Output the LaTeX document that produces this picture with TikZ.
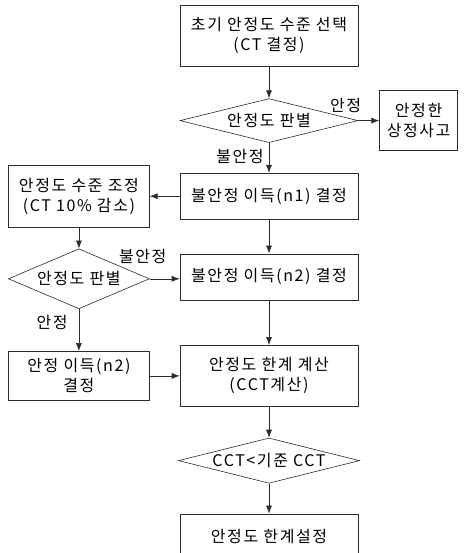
\documentclass[tikz,border=0pt]{standalone}
\usepackage{fontspec}
\usetikzlibrary{arrows.meta,positioning,shapes.geometric}
\newfontfamily\kr[LetterSpace=10]{Noto Sans CJK KR}
\definecolor{ink}{HTML}{2B2B2B}

\begin{document}
\begin{tikzpicture}[x=1pt,y=1pt,>={Latex[length=8pt,width=6pt]},
    every node/.style={font=\kr\fontsize{16}{20}\selectfont},
    box/.style={draw=ink,line width=0.6pt,minimum width=178pt,minimum height=46pt,
                align=center,inner sep=2pt},
    test/.style={draw=ink,line width=0.6pt,diamond,aspect=4,minimum width=178pt,
                 minimum height=44pt,inner sep=1pt},
    flow/.style={->,draw=ink,line width=0.6pt},
    lbl/.style={inner sep=1pt}]
    \useasboundingbox (0,0) rectangle (466,-553);
    % main column
    \node[box,minimum height=61pt] (init) at (269,-35.5) {초기 안정도 수준 선택\\(CT 결정)};
    \node[test,below=32pt of init] (judgeA) {안정도 판별};
    \node[box,minimum width=78pt,minimum height=60pt,right=21pt of judgeA] (safe) {안정한\\상정사고};
    \node[box,below=30pt of judgeA] (gainA) {불안정 이득(n1) 결정};
    \node[box,below=34pt of gainA] (gainB) {불안정 이득(n2) 결정};
    \node[box,minimum height=61pt,below=45pt of gainB] (limit) {안정도 한계 계산\\(CCT계산)};
    \node[test,below=31pt of limit] (cct) {CCT<기준 CCT};
    \node[box,below=30pt of cct] (set) {안정도 한계설정};
    % left column
    \node[box,minimum width=141pt,minimum height=62pt,left=30pt of gainA] (adjust) {안정도 수준 조정\\(CT 10\% 감소)};
    \node[test,aspect=2.35,minimum width=141pt,minimum height=60pt,below=21pt of adjust] (judgeB) {안정도 판별};
    \node[box,minimum width=141pt,minimum height=49pt,below=42pt of judgeB] (stable) {안정 이득(n2)\\결정};

    \draw[flow] (init) -- (judgeA);
    \draw[flow] (judgeA) -- (safe);
    \node[lbl,above left=7pt and -4pt of judgeA.east] (okA) {안정};
    \draw[flow] (judgeA) -- node[lbl,left=4pt,pos=0.45] (failA) {불안정} (gainA);
    \draw[flow] (gainA) -- (adjust);
    \draw[flow] (adjust) -- (judgeB);
    \draw[flow] (judgeB.east) -- (judgeB.east -| gainB.west);
    \node[lbl,above=14pt,xshift=-7pt] (failB) at (judgeB.east) {불안정};
    \draw[flow] (gainA) -- (gainB);
    \draw[flow] (judgeB) -- node[lbl,left=10pt,pos=0.33] (okB) {안정} (stable);
    \draw[flow] (stable.east) -- (stable.east -| limit.west);
    \draw[flow] (gainB) -- (limit);
    \draw[flow] (limit) -- (cct);
    \draw[flow] (cct) -- (set);
\end{tikzpicture}
\end{document}
